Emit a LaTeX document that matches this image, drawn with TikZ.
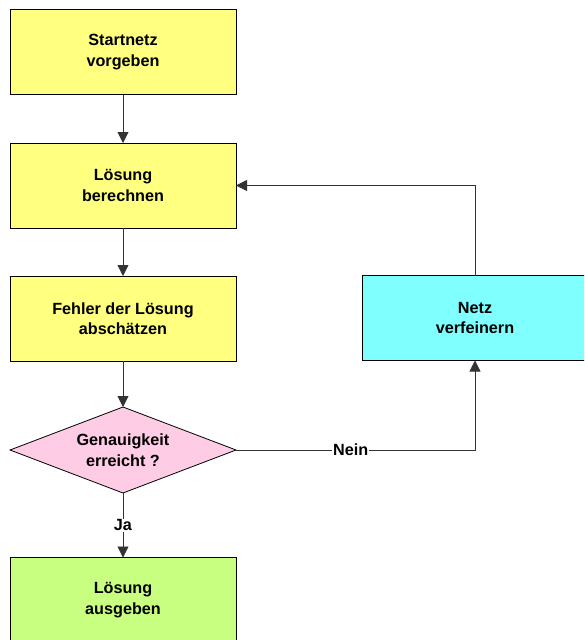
\documentclass[tikz,border=0pt]{standalone}
\usepackage{fontspec}
\setmainfont{Liberation Sans}
\usepackage{tikz}
\usetikzlibrary{arrows,arrows.meta,shapes}
\newcommand{\boxw}{226pt}
\newcommand{\boxh}{85pt}
\definecolor{gelb}{HTML}{FFFF80}
\definecolor{tuerkis}{HTML}{80FFFF}
\definecolor{rosa}{HTML}{FFCCE6}
\definecolor{hellgruen}{HTML}{C8FF80}

\begin{document}
\begin{tikzpicture}[x=1pt,y=-1pt]
            %\draw[help lines] (0,0) grid[step=50] (584,640);
            \tikzset{schritt/.style = {draw=black, line width=0.8pt, minimum width=\boxw, minimum height=\boxh,
                                       inner sep=0pt, outer sep=0pt, align=center,
                                       font=\bfseries\fontsize{16.2}{20.5}\selectfont}}
            \tikzset{frage/.style = {schritt, shape=diamond, aspect=2.6, minimum height=86pt}}
            \tikzset{pfeil/.style = {draw=black!80, line width=0.8pt, -{Triangle[width=11pt,length=11pt]}}}
            \tikzset{marke/.style = {fill=white, inner sep=1pt, font=\bfseries\fontsize{16.2}{20.5}\selectfont}}
            \useasboundingbox (0,0) rectangle (584,640);
            \clip (0,0) rectangle (584,640);

            \node[schritt, fill=gelb] (start) at (123,52) {Startnetz\\vorgeben};
            \node[schritt, fill=gelb] (loes) at (123,185.5) {Lösung\\berechnen};
            \node[schritt, fill=gelb] (fehler) at (123,318.5) {Fehler der Lösung\\abschätzen};
            \node[frage, fill=rosa] (genau) at (123,450) {Genauigkeit\\erreicht ?};
            \node[schritt, fill=hellgruen] (ausgabe) at (123,600) {Lösung\\ausgeben};

            \node[schritt, fill=tuerkis] (netz) at (475,318) {Netz\\verfeinern};

            \draw[pfeil] (start) -- (loes);
            \draw[pfeil] (loes) -- (fehler);
            \draw[pfeil] (fehler) -- (genau);
            \draw[pfeil] (genau) -- node[marke] {Ja} (ausgabe);
            \draw[pfeil] (genau.east) -| node[marke, pos=0.24] {Nein} (netz.south);
            \draw[pfeil] (netz.north) |- (loes.east);
        \end{tikzpicture}
\end{document}
